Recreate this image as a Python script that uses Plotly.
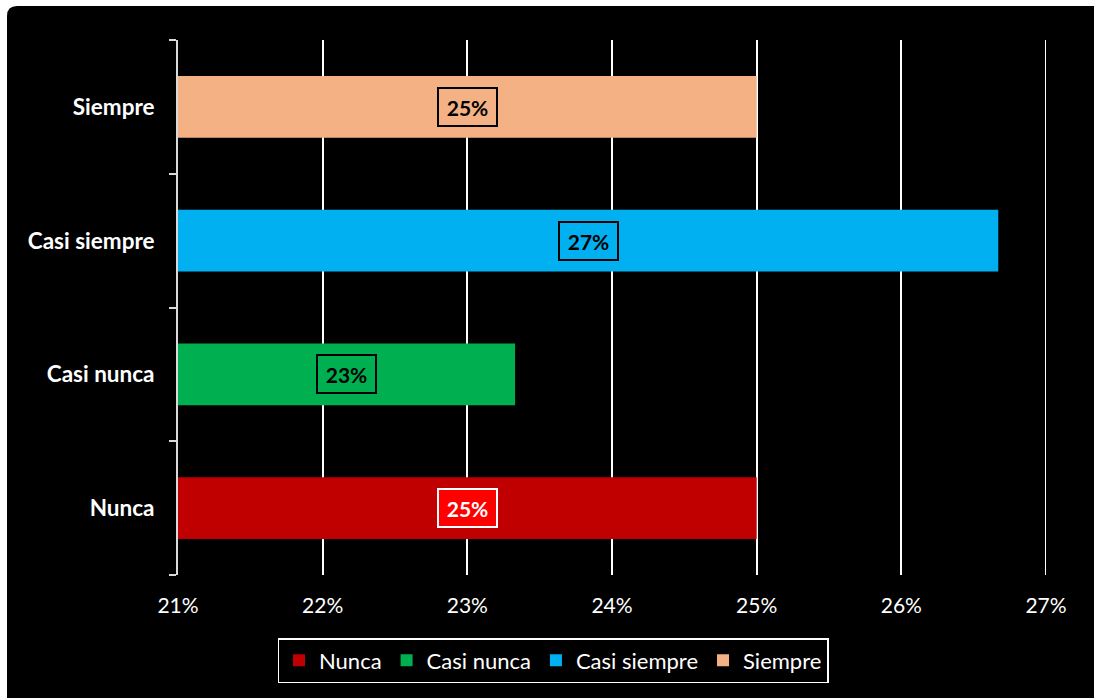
import plotly.graph_objects as go

categories = ["Nunca", "Casi nunca", "Casi siempre", "Siempre"]
values = [0.25, 0.2333, 0.2667, 0.25]
colors = ["#C00000", "#00B050", "#00B0F0", "#F4B183"]
label_font_colors = ["#FFFFFF", "#000000", "#000000", "#000000"]
label_bg_colors = ["#FF0000", "rgba(0,0,0,0)", "rgba(0,0,0,0)", "rgba(0,0,0,0)"]
label_border_colors = ["#FFFFFF", "#000000", "#000000", "#000000"]
x_ticks = [0.21, 0.22, 0.23, 0.24, 0.25, 0.26, 0.27]
x_tick_labels = ["21%", "22%", "23%", "24%", "25%", "26%", "27%"]

FONT = "Lato, 'Open Sans', sans-serif"
x_min, x_max = 0.21, 0.27

fig = go.Figure()
for cat, v, c in zip(categories, values, colors):
    fig.add_trace(go.Bar(
        x=[v], y=[cat], orientation="h", name=cat,
        marker=dict(color=c, line=dict(width=0)),
        width=0.46, hoverinfo="skip",
    ))

annotations = []
for cat, v, fc, bg, bc in zip(categories, values, label_font_colors, label_bg_colors, label_border_colors):
    annotations.append(dict(
        x=(x_min + v) / 2, y=cat, xref="x", yref="y",
        text=f"<b>{v:.0%}</b>", showarrow=False,
        font=dict(family=FONT, size=21, color=fc),
        bgcolor=bg, bordercolor=bc, borderwidth=2, borderpad=4,
        width=49, height=28,
    ))

# black rounded panel (paper coords relative to plot area)
L, R, T, B = 178, 1046, 40, 575
W, H = R - L, B - T
def px(xp):
    return (xp - L) / W
def py(yp):
    return (B - yp) / H
x0, x1 = px(7), px(1100)
y0, y1 = py(704), py(6)
rx, ry = 10 / W, 10 / H
panel = (f"M {x0},{y1 - ry} Q {x0},{y1} {x0 + rx},{y1} L {x1},{y1} "
         f"L {x1},{y0} L {x0},{y0} Z")

shapes = [
    dict(type="path", path=panel, xref="paper", yref="paper",
         fillcolor="#000000", line=dict(width=0), layer="below"),
    # gridline at the right end of the range (plotly skips edge gridlines)
    dict(type="line", xref="x", yref="paper", x0=x_max, x1=x_max, y0=0, y1=1,
         line=dict(color="#FFFFFF", width=2), layer="below"),
]

fig.update_layout(
    width=1094, height=698,
    margin=dict(l=L, r=1094 - R, t=T, b=698 - B, autoexpand=False),
    paper_bgcolor="#FFFFFF", plot_bgcolor="rgba(0,0,0,0)",
    barmode="overlay",
    font=dict(family=FONT, color="#FFFFFF"),
    shapes=shapes,
    annotations=annotations,
    xaxis=dict(
        range=[x_min, x_max], tickvals=x_ticks, ticktext=x_tick_labels,
        showgrid=True, gridcolor="#FFFFFF", gridwidth=2,
        zeroline=False, showline=False, ticks="",
        tickfont=dict(family=FONT, size=21, color="#FFFFFF"),
        ticklabelstandoff=16, automargin=False, fixedrange=True,
    ),
    yaxis=dict(
        categoryorder="array", categoryarray=categories,
        range=[-0.5, 3.5],
        showgrid=False, zeroline=False,
        showline=True, linecolor="#D9D9D9", linewidth=2,
        ticks="outside", tickson="boundaries", ticklen=7,
        tickcolor="#D9D9D9", tickwidth=2,
        tickfont=dict(family=FONT, size=22.5, color="#FFFFFF", weight="bold"),
        ticklabelstandoff=17, automargin=False, fixedrange=True,
    ),
    legend=dict(
        orientation="h", x=(553 - L) / W, xanchor="center",
        y=py(638), yanchor="top",
        bgcolor="#000000", bordercolor="#FFFFFF", borderwidth=1.5,
        font=dict(family=FONT, size=22, color="#FFFFFF"),
        traceorder="normal", itemwidth=30,
    ),
    showlegend=True,
)

fig.write_html("out.html")
